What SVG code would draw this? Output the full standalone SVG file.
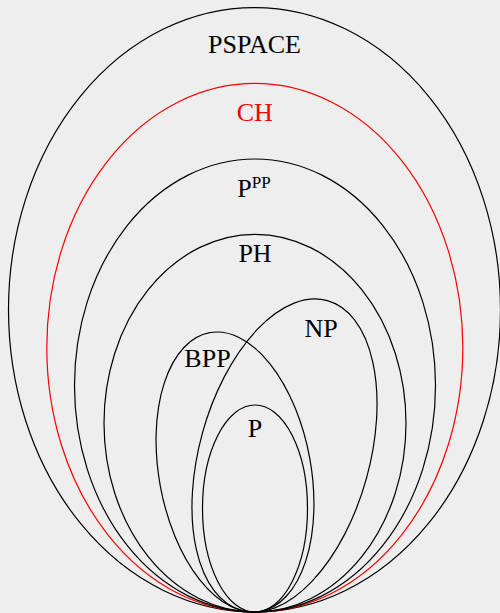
<svg xmlns="http://www.w3.org/2000/svg" width="500" height="613" viewBox="0 0 500 613">
<style>
.e{fill:none;stroke:#000;stroke-width:1.2}
.red{stroke:#f00}
text{font-family:"Liberation Serif","Times New Roman",serif;font-size:26px;text-anchor:middle;fill:#000}
</style>
<rect width="500" height="613" fill="#eeeeee"/>
<g id="PSPACE"><ellipse class="e" cx="254.5" cy="309.8" rx="246" ry="302.2"/><text x="254.5" y="53">PSPACE</text></g>
<g id="CH"><ellipse class="e red" cx="254.8" cy="347.7" rx="208" ry="264.3"/><text x="254.7" y="120.7" style="fill:#f00">CH</text></g>
<g id="PPP"><ellipse class="e" cx="255" cy="385.5" rx="180.5" ry="226.5"/><text x="254" y="196.7">P<tspan font-size="17" dy="-8.5">PP</tspan></text></g>
<g id="PH"><ellipse class="e" cx="255" cy="423.2" rx="151" ry="188.8"/><text x="255" y="261.7">PH</text></g>
<g id="BPP"><ellipse class="e" cx="235" cy="472" rx="76" ry="141.6" transform="rotate(-10.3 235 472)"/><text x="207.5" y="367.3">BPP</text></g>
<g id="NP"><ellipse class="e" cx="284.5" cy="455.5" rx="85.1" ry="160.7" transform="rotate(15.46 284.5 455.5)"/><text x="321" y="337.3">NP</text></g>
<g id="P"><ellipse class="e" cx="255" cy="508.5" rx="52.5" ry="103.5"/><text x="255" y="436.7">P</text></g>
<g id="connectors"></g>
</svg>
